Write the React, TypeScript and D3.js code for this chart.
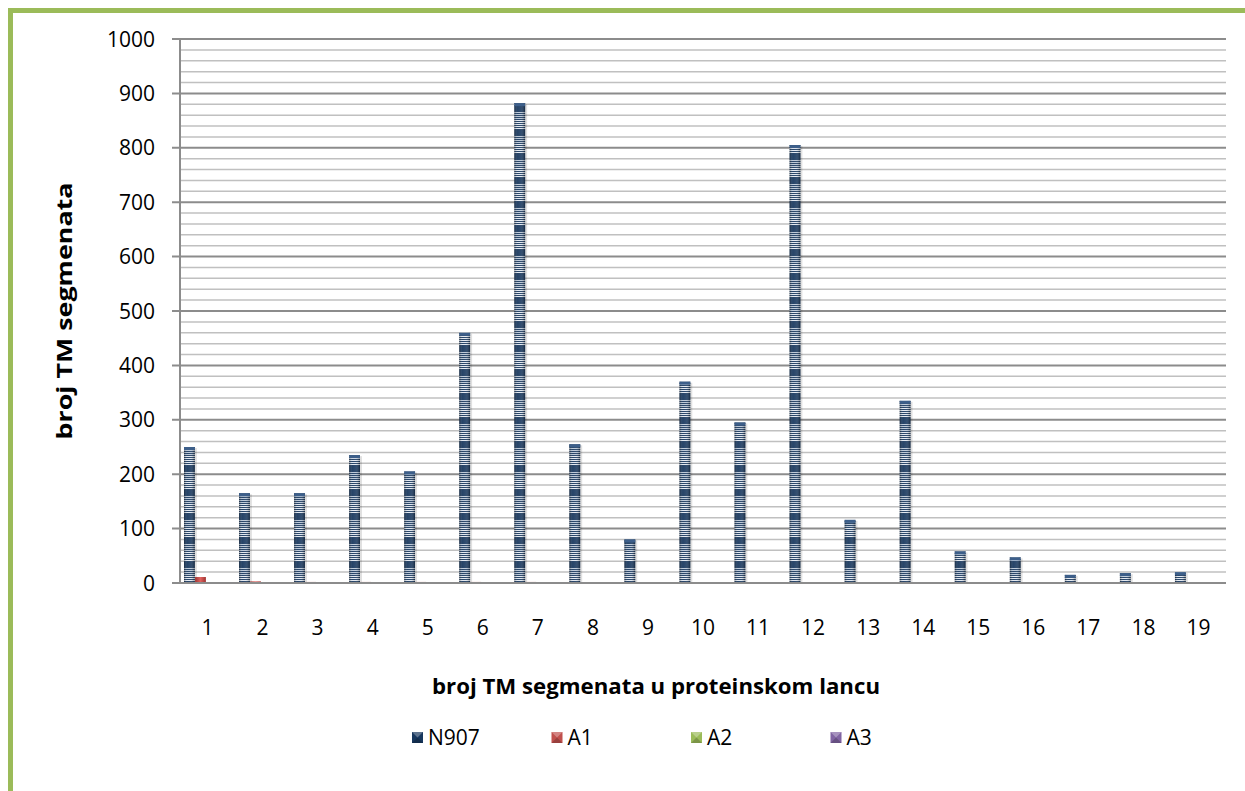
import React from "react";
import * as d3 from "d3";

const categories = ["1","2","3","4","5","6","7","8","9","10","11","12","13","14","15","16","17","18","19"];
const seriesNames = ["N907", "A1", "A2", "A3"];
const n907 = [250, 165, 165, 235, 205, 460, 882, 255, 80, 370, 295, 805, 116, 335, 58, 47, 15, 18, 20];
const a1 = [11, 3, 2, 2, 2, 2, 2, 0, 0, 0, 0, 0, 0, 0, 0, 0, 0, 0, 0];
const a2 = [0, 0, 0, 0, 0, 0, 0, 0, 0, 0, 0, 0, 0, 0, 0, 0, 0, 0, 0];
const a3 = [0, 0, 0, 0, 0, 0, 0, 0, 0, 0, 0, 0, 0, 0, 0, 0, 0, 0, 0];
const yTicks = [0, 100, 200, 300, 400, 500, 600, 700, 800, 900, 1000];
const seriesColors = ["#17375E", "#C0504D", "#9BBB59", "#8064A2"];

const W = 1245, H = 791;
const left = 180, right = 1226, top = 39, bottom = 583;
const FONT = "'Open Sans', sans-serif";

export default function App() {
  const values = [n907, a1, a2, a3];
  const y = d3.scaleLinear().domain([0, 1000]).range([bottom, top]);
  const x0 = d3.scaleBand<string>().domain(categories).range([left, right]);
  const x1 = d3.scaleBand<string>().domain(seriesNames).range([4, 48]).paddingInner(0.02);
  const minorTicks = d3.range(0, 1001, 20);
  const stripeRows = d3.range(0, 24, 1);

  return (
    <svg width={W} height={H} style={{ position: "absolute", left: 0, top: 0, display: "block" }} fontFamily={FONT}>
      <defs>
        <pattern id="stripes" patternUnits="userSpaceOnUse" width="12" height="24">
          <rect width="12" height="24" fill="#1b3a60" />
          {stripeRows.map((r) => (
            r % 2 === 0 && (r < 9 || r > 14) ? (
              <rect key={r} x="0" y={r} width="12" height="1" fill={r < 9 ? "#e3e9f1" : "#b9c6d6"} />
            ) : null
          ))}
        </pattern>
        <linearGradient id="cyl" x1="0" x2="1" y1="0" y2="0">
          <stop offset="0" stopColor="#000" stopOpacity="0.35" />
          <stop offset="0.3" stopColor="#fff" stopOpacity="0.05" />
          <stop offset="0.6" stopColor="#fff" stopOpacity="0.1" />
          <stop offset="1" stopColor="#000" stopOpacity="0.35" />
        </linearGradient>
        <linearGradient id="redg" x1="0" x2="1" y1="0" y2="0">
          <stop offset="0" stopColor="#9e3532" />
          <stop offset="0.5" stopColor="#e0615d" />
          <stop offset="1" stopColor="#9e3532" />
        </linearGradient>
      </defs>
      <rect x="0" y="0" width={W} height={H} fill="#fff" />
      <rect x="10.5" y="10.5" width={W + 20} height={H + 20} fill="none" stroke="#9BBB59" strokeWidth="5" />

      {minorTicks.filter((t) => t % 100 !== 0).map((t) => (
        <line key={"m" + t} x1={left} x2={right} y1={y(t)} y2={y(t)} stroke="#c0c0c0" strokeWidth="1.5" />
      ))}
      {yTicks.map((t) => (
        <line key={"g" + t} x1={left - 8} x2={right} y1={y(t)} y2={y(t)} stroke="#8c8c8c" strokeWidth="2" />
      ))}
      <line x1={left} x2={left} y1={top} y2={bottom} stroke="#8c8c8c" strokeWidth="2" />
      {yTicks.map((t) => (
        <text key={"yl" + t} x={155} y={y(t)} dy="0.36em" textAnchor="end" fontSize="21" fill="#000">{t}</text>
      ))}

      {categories.map((c, i) => (
        <g key={"c" + c} transform={`translate(${x0(c)},0)`}>
          {seriesNames.map((s, si) => {
            const v = values[si][i];
            if (v <= 0) return null;
            const bx = x1(s)!;
            const bw = x1.bandwidth();
            const by = y(v);
            const bh = bottom - by;
            if (si === 0) {
              return (
                <g key={s}>
                  <rect x={bx + 2} y={by + 1} width={bw} height={bh} fill="#000" opacity="0.12" />
                  <rect x={bx} y={by} width={bw} height={bh} fill="url(#stripes)" />
                  <rect x={bx} y={by} width={bw} height={bh} fill="url(#cyl)" />
                  <rect x={bx} y={by} width={bw} height={Math.min(3, bh)} fill="#3d5f8a" />
                </g>
              );
            }
            return (
              <g key={s}>
                <rect x={bx} y={by} width={bw} height={bh} fill={si === 1 ? "url(#redg)" : seriesColors[si]} opacity={v < 3 ? 0.7 : 1} />
              </g>
            );
          })}
          <text x={x0.bandwidth() / 2} y={627} dy="0.36em" textAnchor="middle" fontSize="21" fill="#000">{c}</text>
        </g>
      ))}
      <line x1={left} x2={right} y1={bottom} y2={bottom} stroke="#8c8c8c" strokeWidth="2" />

      <text x={656} y={686} dy="0.36em" textAnchor="middle" fontSize="21" fontWeight="bold" fill="#000" textLength="448" lengthAdjust="spacingAndGlyphs">broj TM segmenata u proteinskom lancu</text>
      <text transform={`translate(64,311) rotate(-90)`} dy="0.36em" textAnchor="middle" fontSize="21" fontWeight="bold" fill="#000" textLength="257" lengthAdjust="spacingAndGlyphs">broj TM segmenata</text>

      {seriesNames.map((s, i) => {
        const lx = 412 + i * 139.5;
        return (
          <g key={"lg" + s} transform={`translate(${lx},737)`}>
            <rect x="0" y="-5" width="11" height="11" fill={seriesColors[i]} />
            <path d="M0,-5 L11,-5 L5.5,0.5 Z" fill="#fff" opacity="0.3" />
            <path d="M0,6 L11,6 L5.5,0.5 Z" fill="#000" opacity="0.2" />
            <text x="16" y="0" dy="0.36em" fontSize="21" fill="#000">{s}</text>
          </g>
        );
      })}
    </svg>
  );
}
